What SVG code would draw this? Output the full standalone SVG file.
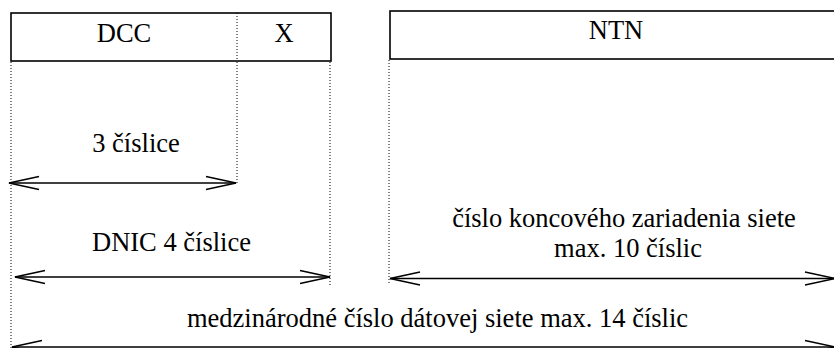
<svg xmlns="http://www.w3.org/2000/svg" width="834" height="348" viewBox="0 0 834 348">
  <defs>
    <marker id="head" markerUnits="userSpaceOnUse" markerWidth="40" markerHeight="20" refX="0" refY="0" orient="auto-start-reverse" overflow="visible">
      <path d="M-30,-6.5 L0,0 L-30,6.5" fill="none" stroke="#000" stroke-width="1.6"/>
    </marker>
  </defs>
  <style>
    .box { fill: #fff; stroke: #000; stroke-width: 1.6; }
    .dot { fill: none; stroke: #000; stroke-width: 1; stroke-dasharray: 1 2; }
    .dim { fill: none; stroke: #000; stroke-width: 1.6; marker-start: url(#head); marker-end: url(#head); }
  </style>
  <rect width="834" height="348" fill="#fff"/>

  <!-- extension lines -->
  <g id="guides">
    <line class="dot" x1="11" y1="62" x2="11" y2="348"/>
    <line class="dot" x1="237" y1="62" x2="237" y2="184"/>
    <line class="dot" x1="330" y1="62" x2="330" y2="285"/>
    <line class="dot" x1="389" y1="60" x2="389" y2="285"/>
  </g>

  <g id="dcc-x">
    <rect class="box" x="11" y="13" width="320" height="48"/>
    <line class="dot" x1="237" y1="13" x2="237" y2="61"/>
    <text x="124" y="42" font-family="Liberation Serif" font-size="26.5" text-anchor="middle">DCC</text>
    <text x="284" y="42" font-family="Liberation Serif" font-size="26.5" text-anchor="middle">X</text>
  </g>

  <g id="ntn">
    <rect class="box" x="390" y="11" width="460" height="48"/>
    <text x="616" y="39" font-family="Liberation Serif" font-size="26.5" text-anchor="middle">NTN</text>
  </g>

  <g id="connectors">
    <line class="dim" x1="9" y1="183" x2="236" y2="183"/>
    <line class="dim" x1="15" y1="277" x2="330" y2="277"/>
    <line class="dim" x1="390" y1="278.5" x2="835" y2="278.5"/>
    <line class="dim" x1="12" y1="347" x2="835" y2="347"/>
  </g>

  <g id="labels">
    <text x="136" y="152" font-family="Liberation Serif" font-size="26.5" text-anchor="middle">3 číslice</text>
    <text x="171.5" y="251" font-family="Liberation Serif" font-size="26.5" text-anchor="middle">DNIC 4 číslice</text>
    <text x="624" y="227" font-family="Liberation Serif" font-size="26.5" text-anchor="middle">číslo koncového zariadenia siete</text>
    <text x="628" y="257" font-family="Liberation Serif" font-size="26.5" text-anchor="middle">max. 10 číslic</text>
    <text x="437.5" y="327" font-family="Liberation Serif" font-size="26.5" text-anchor="middle">medzinárodné číslo dátovej siete max. 14 číslic</text>
  </g>
</svg>
